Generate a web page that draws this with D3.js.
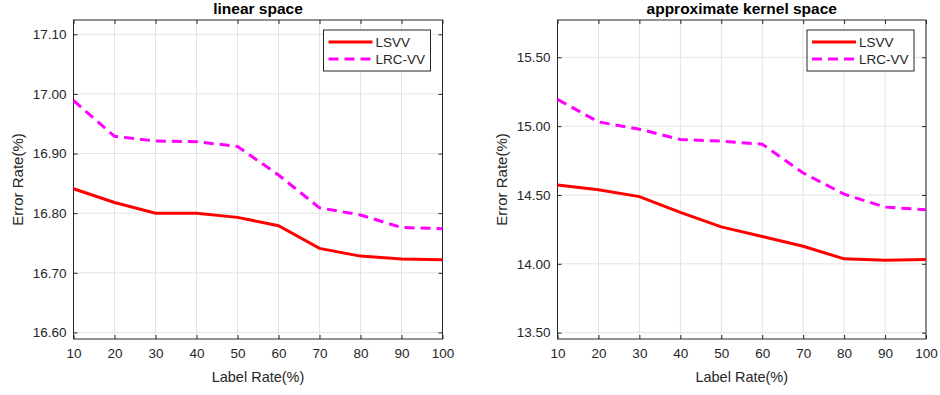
<!DOCTYPE html>
<html>
<head>
<meta charset="utf-8">
<script src="https://cdn.jsdelivr.net/npm/d3@7"></script>
<style>
  body { margin: 0; background: #fff; }
  svg { display: block; }
</style>
</head>
<body>
<svg id="drawing_region"></svg>
<script>
// label rate (%)
const labelRates = [10, 20, 30, 40, 50, 60, 70, 80, 90, 100];
const seriesNames = ['LSVV', 'LRC-VV'];

// linear space
const linearLSVV  = [16.841, 16.818, 16.800, 16.800, 16.793, 16.779, 16.741, 16.728, 16.723, 16.722];
const linearLRCVV = [16.989, 16.929, 16.921, 16.920, 16.912, 16.864, 16.809, 16.797, 16.776, 16.774];
const linearYTicks = [16.6, 16.7, 16.8, 16.9, 17.0, 17.1];

// approximate kernel space
const kernelLSVV  = [14.573, 14.538, 14.488, 14.374, 14.268, 14.199, 14.128, 14.036, 14.026, 14.032];
const kernelLRCVV = [15.194, 15.031, 14.978, 14.903, 14.891, 14.869, 14.660, 14.506, 14.412, 14.393];
const kernelYTicks = [13.5, 14.0, 14.5, 15.0, 15.5];

const xTicks = [10, 20, 30, 40, 50, 60, 70, 80, 90, 100];

const svg = d3.select('#drawing_region')
    .attr('width', 940)
    .attr('height', 395);

const axisColor = '#262626';
const font = 'Helvetica, Arial, "Liberation Sans", sans-serif';

function drawPanel(cfg) {
    const w = cfg.right - cfg.left;
    const h = cfg.bottom - cfg.top;
    const g = svg.append('g')
        .attr('transform', `translate(${cfg.left}, ${cfg.top})`);

    const xscale = d3.scaleLinear().domain([10, 100]).range([0, w]);
    const yscale = d3.scaleLinear().domain(cfg.ydomain).range([h, 0]);

    // grid
    g.append('g').selectAll('line.vx')
        .data(xTicks)
        .enter().append('line')
        .attr('x1', d => xscale(d)).attr('x2', d => xscale(d))
        .attr('y1', 0).attr('y2', h)
        .attr('stroke', '#e3e3e3').attr('stroke-width', 1);
    g.append('g').selectAll('line.hy')
        .data(cfg.yticks)
        .enter().append('line')
        .attr('x1', 0).attr('x2', w)
        .attr('y1', d => yscale(d)).attr('y2', d => yscale(d))
        .attr('stroke', '#e3e3e3').attr('stroke-width', 1);

    // axes (ticks inward)
    const styleAxis = sel => {
        sel.select('.domain').remove();
        sel.selectAll('line').attr('stroke', axisColor);
        sel.selectAll('text')
            .attr('fill', axisColor)
            .attr('font-family', font)
            .attr('font-size', '13.5px');
    };

    g.append('g')
        .attr('transform', `translate(0, ${h})`)
        .call(d3.axisBottom(xscale).tickValues(xTicks).tickSizeInner(-4).tickSizeOuter(0).tickPadding(9))
        .call(styleAxis);
    g.append('g')
        .call(d3.axisTop(xscale).tickValues(xTicks).tickSizeInner(-4).tickSizeOuter(0).tickFormat(''))
        .call(styleAxis);
    g.append('g')
        .call(d3.axisLeft(yscale).tickValues(cfg.yticks).tickSizeInner(-4).tickSizeOuter(0)
            .tickPadding(7).tickFormat(d3.format('.2f')))
        .call(styleAxis);
    g.append('g')
        .attr('transform', `translate(${w}, 0)`)
        .call(d3.axisRight(yscale).tickValues(cfg.yticks).tickSizeInner(-4).tickSizeOuter(0).tickFormat(''))
        .call(styleAxis);

    // box
    g.append('rect')
        .attr('x', 0).attr('y', 0)
        .attr('width', w).attr('height', h)
        .attr('fill', 'none')
        .attr('stroke', axisColor)
        .attr('stroke-width', 1);

    // lines
    const line = d3.line()
        .x((d, i) => xscale(labelRates[i]))
        .y(d => yscale(d));

    g.append('path')
        .datum(cfg.lrcvv)
        .attr('d', line)
        .attr('fill', 'none')
        .attr('stroke', '#ff00ff')
        .attr('stroke-width', 3)
        .attr('stroke-dasharray', '10,6');

    g.append('path')
        .datum(cfg.lsvv)
        .attr('d', line)
        .attr('fill', 'none')
        .attr('stroke', '#ff0000')
        .attr('stroke-width', 3);

    // title
    svg.append('text')
        .attr('x', cfg.left + w / 2)
        .attr('y', 13.5)
        .attr('text-anchor', 'middle')
        .attr('font-family', font)
        .attr('font-size', '15.5px')
        .attr('font-weight', 'bold')
        .attr('fill', '#000')
        .text(cfg.title);

    // axis labels
    svg.append('text')
        .attr('x', cfg.left + w / 2)
        .attr('y', 382)
        .attr('text-anchor', 'middle')
        .attr('font-family', font)
        .attr('font-size', '14.5px')
        .attr('fill', axisColor)
        .text('Label Rate(%)');

    svg.append('text')
        .attr('transform', `translate(${cfg.left - 51}, ${cfg.top + h / 2}) rotate(-90)`)
        .attr('text-anchor', 'middle')
        .attr('font-family', font)
        .attr('font-size', '15px')
        .attr('fill', axisColor)
        .text('Error Rate(%)');

    // legend
    const lx = w - 119, ly = 10;
    const legend = g.append('g').attr('transform', `translate(${lx}, ${ly})`);
    legend.append('rect')
        .attr('x', 0).attr('y', 0)
        .attr('width', 107).attr('height', 41)
        .attr('fill', '#fff')
        .attr('stroke', axisColor)
        .attr('stroke-width', 1);
    const items = [
        { name: seriesNames[0], color: '#ff0000', dash: null },
        { name: seriesNames[1], color: '#ff00ff', dash: '10,6' }
    ];
    items.forEach((it, i) => {
        const yy = 12 + i * 17;
        legend.append('line')
            .attr('x1', 5).attr('x2', 49)
            .attr('y1', yy).attr('y2', yy)
            .attr('stroke', it.color)
            .attr('stroke-width', 3)
            .attr('stroke-dasharray', it.dash);
        legend.append('text')
            .attr('x', 52)
            .attr('y', yy)
            .attr('dy', '0.35em')
            .attr('font-family', font)
            .attr('font-size', '13.5px')
            .attr('fill', axisColor)
            .text(it.name);
    });
}

drawPanel({
    title: 'linear space',
    left: 73.5, right: 442.5, top: 20, bottom: 339,
    ydomain: [16.589, 17.124],
    yticks: linearYTicks,
    lsvv: linearLSVV,
    lrcvv: linearLRCVV
});

drawPanel({
    title: 'approximate kernel space',
    left: 557.5, right: 926, top: 20, bottom: 339,
    ydomain: [13.454, 15.771],
    yticks: kernelYTicks,
    lsvv: kernelLSVV,
    lrcvv: kernelLRCVV
});
</script>
</body>
</html>
